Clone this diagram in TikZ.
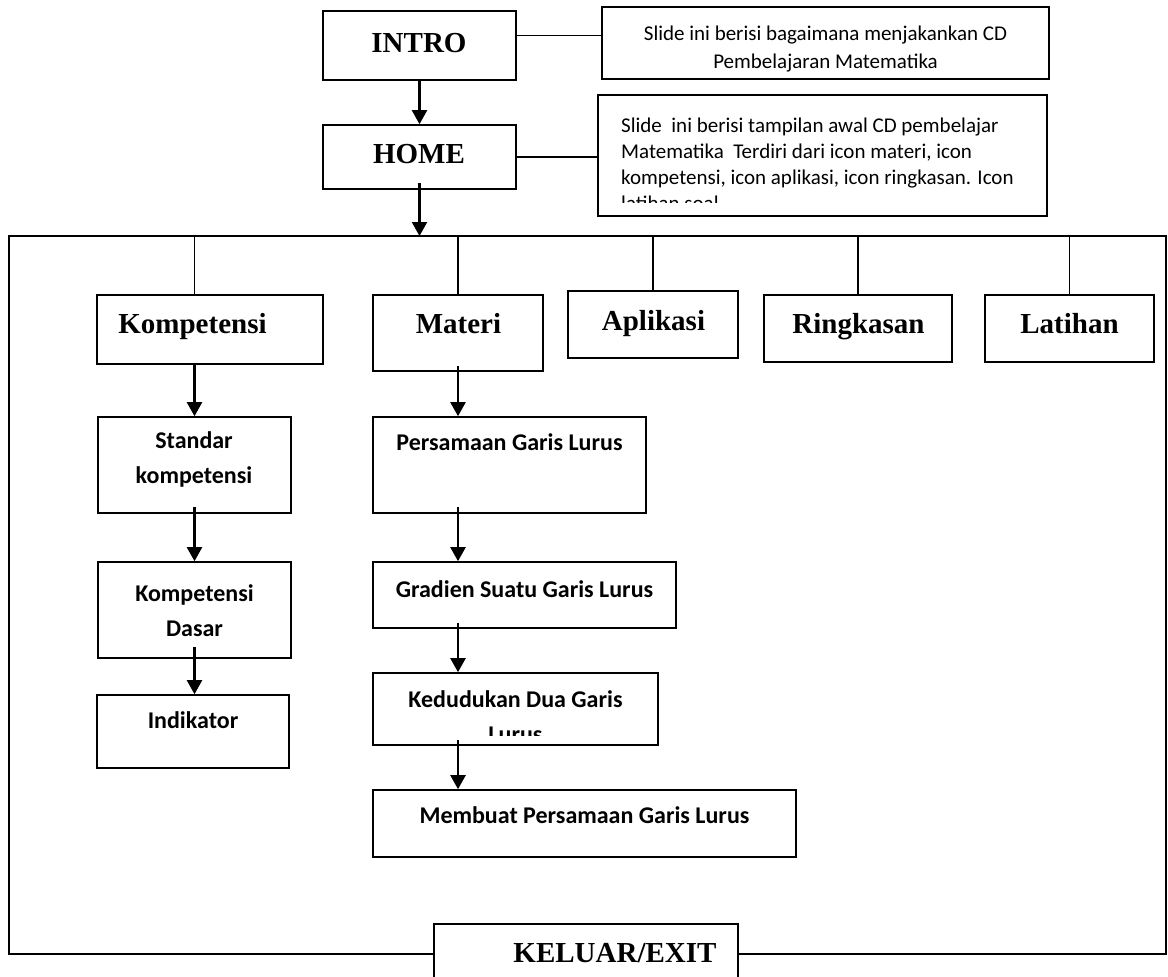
\documentclass[tikz,border=0pt]{standalone}
\usepackage{fontspec}
\newfontfamily\timesfont{Liberation Serif}
\newfontfamily\calibrifont{Carlito}
\usetikzlibrary{arrows.meta,positioning}

\begin{document}
\begin{tikzpicture}[
    x=1pt, y=-1pt,
    box/.style={draw, line width=1.6pt, inner sep=0pt},
    head/.style={font=\timesfont\bfseries\fontsize{29}{34}\selectfont,
        anchor=base, inner sep=0pt},
    sub/.style={font=\calibrifont\bfseries\fontsize{24}{35}\selectfont,
        align=center, anchor=base, inner sep=0pt},
    info/.style={font=\calibrifont\fontsize{21}{28}\selectfont,
        anchor=base, inner sep=0pt},
    link/.style={line width=1.5pt},
    frame/.style={line width=2pt},
    arrow/.style={-{Triangle[length=14pt, width=15pt]}, line width=2.2pt}
]
    \useasboundingbox (0,0) rectangle (1168,977);

    % top: intro and home with their notes
    \node[box, minimum width=193pt, minimum height=69pt] (intro) at (419.5,45.5) {};
    \node[head] (intro_label) at (419,52) {INTRO};
    \node[box, minimum width=193pt, minimum height=64pt] (home) at (419.5,157) {};
    \node[head] (home_label) at (419,163) {HOME};

    \node[box, minimum width=447pt, minimum height=72pt] (intro_info) at (825.5,43) {};
    % base of a two-line node is its last line
    \node[info, align=center] (intro_info_text) at (825.5,68)
        {Slide ini berisi bagaimana menjakankan CD\\Pembelajaran Matematika};
    \node[box, minimum width=449pt, minimum height=121pt] (home_info) at (822.5,155.5) {};
    \begin{scope}
        \clip (598,95) rectangle (1047,202);
        \node[info, align=left, anchor=base west,
            font=\calibrifont\fontsize{21}{26}\selectfont]
            (home_info_text) at (621,210)
            {Slide~ ini berisi tampilan awal CD pembelajar\\
             Matematika~ Terdiri dari icon materi, icon\\
             kompetensi, icon aplikasi, icon ringkasan. Icon\\
             latihan soal};
    \end{scope}

    % menu row
    \coordinate (bus_w) at (9,236);
    \coordinate (bus_e) at (1166,236);
    \coordinate (base_w) at (9,954);
    \coordinate (base_e) at (1166,954);

    \node[box, minimum width=226pt, minimum height=69pt] (kompetensi) at (210,329.5) {};
    \node[head] (kompetensi_label) at (192.5,333) {Kompetensi};
    \node[box, minimum width=170pt, minimum height=76pt] (materi) at (458,333) {};
    \node[head] (materi_label) at (458.5,333) {Materi};
    \node[box, minimum width=170pt, minimum height=67pt] (aplikasi) at (653,324.5) {};
    \node[head] (aplikasi_label) at (653.5,330) {Aplikasi};
    \node[box, minimum width=188pt, minimum height=67pt] (ringkasan) at (858,328.5) {};
    \node[head] (ringkasan_label) at (858.5,333) {Ringkasan};
    \node[box, minimum width=169pt, minimum height=67pt] (latihan) at (1069.5,328.5) {};
    \node[head] (latihan_label) at (1069.5,333) {Latihan};

    % kompetensi column
    \node[box, minimum width=193pt, minimum height=96pt] (standar) at (194.5,465) {};
    \node[sub] (standar_label) at (194,483) {Standar\\kompetensi};
    \node[box, minimum width=193pt, minimum height=96pt] (dasar) at (194.5,610) {};
    \node[sub] (dasar_label) at (194.5,636) {Kompetensi\\Dasar};
    \node[box, minimum width=192pt, minimum height=73pt] (indikator) at (193,731.5) {};
    \node[sub] (indikator_label) at (193,728) {Indikator};

    % materi column
    \node[box, minimum width=273pt, minimum height=96pt] (persamaan) at (509.5,465) {};
    \node[sub] (persamaan_label) at (509.5,450) {Persamaan Garis Lurus};
    \node[box, minimum width=303pt, minimum height=66pt] (gradien) at (524.5,595) {};
    \node[sub] (gradien_label) at (524.5,597) {Gradien Suatu Garis Lurus};
    \node[box, minimum width=285pt, minimum height=72pt] (kedudukan) at (515.5,709) {};
    \begin{scope}
        \clip (373,673) rectangle (658,735);
        \node[sub] (kedudukan_label) at (515.5,742) {Kedudukan Dua Garis\\Lurus};
    \end{scope}
    \node[box, minimum width=423pt, minimum height=67pt] (membuat) at (584.5,823.5) {};
    \node[sub] (membuat_label) at (584.5,823) {Membuat Persamaan Garis Lurus};

    \node[box, minimum width=304pt, minimum height=76pt] (keluar) at (586,962) {};
    \node[head] (keluar_label) at (615,962) {KELUAR/EXIT};

    % connectors
    \draw[arrow] (intro) -- (home);
    \draw[arrow] ([yshift=7pt]home.south) -- (home.south |- bus_w);
    \draw[link] ([yshift=10pt]intro.east) -- ([yshift=10pt]intro.east -| intro_info.west);
    \draw[link] (home.east) -- (home.east -| home_info.west);

    \draw[frame] (keluar.west |- base_w) -- (base_w) -- (bus_w)
        -- (bus_e) -- (base_e) -- (keluar.east |- base_e);
    \draw[link] (standar.north |- kompetensi.north) -- (standar.north |- bus_w);
    \foreach \n in {materi, aplikasi, ringkasan, latihan}
        \draw[link] (\n.north) -- (\n.north |- bus_w);

    \draw[arrow] (standar.north |- kompetensi.south) -- (standar.north);
    \draw[arrow] ([yshift=7pt]standar.south) -- (dasar.north);
    \draw[arrow] ([yshift=12pt]dasar.south) -- (dasar.south |- indikator.north);
    \draw[arrow] ([yshift=6pt]materi.south) -- (materi.south |- persamaan.north);
    \draw[arrow] ([yshift=7pt]persamaan.south -| materi) -- (gradien.north -| materi);
    \draw[arrow] ([yshift=6pt]gradien.south -| materi) -- (kedudukan.north -| materi);
    \draw[arrow] ([yshift=6pt]kedudukan.south -| materi) -- (membuat.north -| materi);
\end{tikzpicture}
\end{document}
